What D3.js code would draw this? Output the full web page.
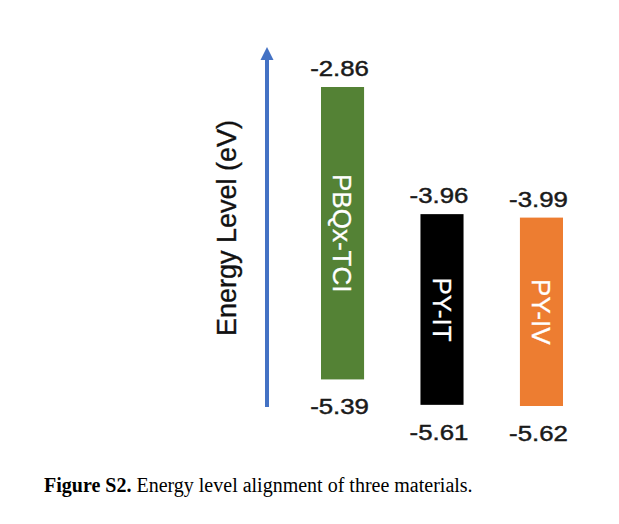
<!DOCTYPE html>
<html>
<head>
<meta charset="utf-8">
<script src="https://cdn.jsdelivr.net/npm/d3@7"></script>
<style>
  html, body { margin: 0; padding: 0; background: #ffffff; }
  svg { display: block; }
</style>
</head>
<body>
<svg id="chart" width="619" height="524"></svg>
<script>
// ---- data ----
const materials = ["PBQx-TCI", "PY-IT", "PY-IV"];
const lumo = [-2.86, -3.96, -3.99];
const homo = [-5.39, -5.61, -5.62];
const axisTitle = "Energy Level (eV)";
const captionBold = "Figure S2.";
const captionText = " Energy level alignment of three materials.";

// ---- layout ----
const svg = d3.select("#chart");
const W = 619, H = 524;
svg.append("rect").attr("width", W).attr("height", H).attr("fill", "#ffffff");

const x = d3.scaleBand().domain(materials).range([321, 563]).paddingInner(0.567).paddingOuter(0);
const y = d3.scaleLinear().domain([-2.86, -5.62]).range([87, 406]);
const color = d3.scaleOrdinal().domain(materials).range(["#548235", "#000000", "#ED7D31"]);

const rows = materials.map((m, i) => ({ m, lumo: lumo[i], homo: homo[i] }));
const fmt = v => v.toFixed(2);

// arrow (energy axis)
const ax = 267, ayBottom = 407, ayTop = 47;
svg.append("line")
  .attr("x1", ax).attr("x2", ax)
  .attr("y1", ayBottom).attr("y2", ayTop + 10)
  .attr("stroke", "#4472C4").attr("stroke-width", 4);
svg.append("path")
  .attr("d", `M${ax},${ayTop} L${ax - 6.5},${ayTop + 13} L${ax + 6.5},${ayTop + 13} Z`)
  .attr("fill", "#4472C4");

// axis title
svg.append("text")
  .attr("transform", `translate(236,228) rotate(-90)`)
  .attr("text-anchor", "middle")
  .attr("font-family", "Liberation Sans, Arial, sans-serif")
  .attr("font-size", 27)
  .attr("fill", "#111")
  .attr("stroke", "#111").attr("stroke-width", 0.35)
  .text(axisTitle);

// bars
svg.selectAll("rect.bar").data(rows).join("rect")
  .attr("class", "bar")
  .attr("x", d => x(d.m))
  .attr("width", x.bandwidth())
  .attr("y", d => y(d.lumo))
  .attr("height", d => y(d.homo) - y(d.lumo))
  .attr("fill", d => color(d.m));

// names inside bars
svg.selectAll("text.name").data(rows).join("text")
  .attr("class", "name")
  .attr("transform", d => `translate(${x(d.m) + x.bandwidth() / 2 - 9.5},${(y(d.lumo) + y(d.homo)) / 2}) rotate(90)`)
  .attr("text-anchor", "middle")
  .attr("font-family", "Liberation Sans, Arial, sans-serif")
  .attr("font-size", 26)
  .attr("fill", "#ffffff")
  .attr("stroke", "#ffffff").attr("stroke-width", 0.3)
  .text(d => d.m);

// value labels
const lblFont = "Liberation Sans, Arial, sans-serif";
svg.selectAll("text.top").data(rows).join("text")
  .attr("class", "top")
  .attr("transform", d => `translate(${x(d.m) + x.bandwidth() / 2 - 3},${y(d.lumo) - 11}) scale(1.2,1)`)
  .attr("text-anchor", "middle")
  .attr("font-family", lblFont)
  .attr("font-size", 21.5)
  .attr("fill", "#1a1a1a")
  .attr("stroke", "#1a1a1a").attr("stroke-width", 0.45)
  .text(d => fmt(d.lumo));

svg.selectAll("text.bot").data(rows).join("text")
  .attr("class", "bot")
  .attr("transform", d => `translate(${x(d.m) + x.bandwidth() / 2 - 3},${y(d.homo) + 35}) scale(1.2,1)`)
  .attr("text-anchor", "middle")
  .attr("font-family", lblFont)
  .attr("font-size", 21.5)
  .attr("fill", "#1a1a1a")
  .attr("stroke", "#1a1a1a").attr("stroke-width", 0.45)
  .text(d => fmt(d.homo));

// caption
const cap = svg.append("text")
  .attr("x", 44).attr("y", 492)
  .attr("font-family", "Liberation Serif, Times New Roman, serif")
  .attr("font-size", 20)
  .attr("fill", "#000");
cap.append("tspan").attr("font-weight", "bold").text(captionBold);
cap.append("tspan").text(captionText);
</script>
</body>
</html>
